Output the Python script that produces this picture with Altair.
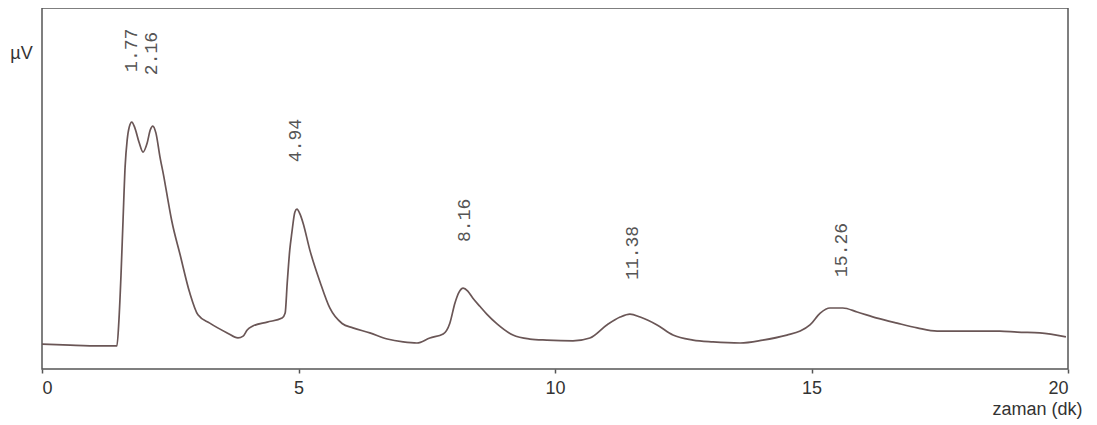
import altair as alt
import pandas as pd

# retention time (dk) and detector signal (arbitrary µV units)
time_min = [0.00, 0.55, 1.13, 1.44, 1.46, 1.50, 1.54, 1.58, 1.62, 1.66, 1.70, 1.75,
            1.81, 1.89, 1.97, 2.05, 2.11, 2.16, 2.22, 2.30, 2.38, 2.44, 2.53, 2.69,
            2.88, 3.04, 3.27, 3.61, 3.82, 3.92, 4.00, 4.11, 4.39, 4.68, 4.74, 4.78,
            4.83, 4.87, 4.93, 4.97, 5.03, 5.09, 5.22, 5.42, 5.61, 5.85, 6.06, 6.39,
            6.73, 7.04, 7.31, 7.56, 7.82, 7.95, 8.05, 8.13, 8.21, 8.30, 8.40, 8.54,
            8.67, 8.87, 9.18, 9.51, 9.84, 10.35, 10.68, 11.01, 11.27, 11.46, 11.66,
            11.99, 12.30, 12.69, 13.08, 13.61, 14.05, 14.52, 14.78, 14.97, 15.17,
            15.36, 15.61, 15.89, 16.28, 16.67, 17.06, 17.45, 18.03, 18.67, 19.01,
            19.45, 19.96]
signal_uv = [6.9, 6.6, 6.4, 6.4, 6.4, 13.6, 26.0, 41.3, 56.0, 63.4, 67.0, 68.4,
             66.8, 62.9, 60.1, 62.6, 66.2, 67.3, 65.4, 58.7, 52.9, 48.0, 41.0, 31.8,
             21.1, 15.0, 12.7, 10.0, 8.6, 9.1, 10.8, 11.9, 13.0, 14.1, 15.5, 23.8,
             33.0, 37.7, 43.5, 44.3, 42.9, 40.4, 33.0, 24.1, 16.9, 12.6, 11.4, 10.0,
             8.3, 7.5, 7.2, 8.6, 9.7, 12.7, 18.3, 21.3, 22.4, 21.6, 19.6, 17.3,
             15.2, 12.5, 9.4, 8.3, 8.0, 7.8, 8.6, 12.2, 14.4, 15.2, 14.4,
             12.2, 9.4, 8.0, 7.5, 7.2, 8.0, 9.4, 10.5, 12.2, 15.5,
             16.9, 16.9, 15.8, 14.1, 12.7, 11.4, 10.5, 10.5, 10.5, 10.2,
             10.0, 8.9]

# peak annotations: text, position along time axis, and signal level of label foot
peak_labels = ["1.77", "2.16", "4.94", "8.16", "11.38", "15.26"]
peak_label_time = [1.75, 2.14, 4.95, 8.25, 11.52, 15.59]
peak_label_level = [82.3, 81.4, 57.3, 35.2, 24.7, 25.5]

x_ticks = [0, 5, 10, 15, 20]

curve = pd.DataFrame({"t": time_min, "v": signal_uv})
labels = pd.DataFrame({"label": peak_labels, "t": peak_label_time, "v": peak_label_level})

x_scale = alt.Scale(domain=[0, 20], nice=False, zero=False)
y_scale = alt.Scale(domain=[0, 100], nice=False)

line = alt.Chart(curve).mark_line(
    color="#6a5656", strokeWidth=1.7, interpolate="monotone"
).encode(
    x=alt.X("t:Q", scale=x_scale, axis=alt.Axis(
        title="zaman (dk)", values=x_ticks, format="d", grid=False, domain=False,
        tickSize=4, tickColor="#555", tickWidth=1.5, labelPadding=6,
        labelFont="Liberation Sans", labelFontSize=18, labelColor="#333",
        titleFont="Liberation Sans", titleFontSize=18, titleFontWeight="normal",
        titleColor="#333", titleX=1040, titleY=40, titleAlign="right",
        titleBaseline="middle")),
    y=alt.Y("v:Q", scale=y_scale, axis=alt.Axis(
        title="µV", labels=False, ticks=False, domain=False, grid=False,
        titleAngle=0, titleX=-21, titleY=45, titleAlign="center",
        titleBaseline="middle", titleFont="Liberation Sans", titleFontSize=18,
        titleFontWeight="normal", titleColor="#333")),
)

text = alt.Chart(labels).mark_text(
    angle=270, align="left", baseline="middle", font="Liberation Mono",
    fontSize=18, color="#555"
).encode(
    x=alt.X("t:Q", scale=x_scale),
    y=alt.Y("v:Q", scale=y_scale),
    text="label:N",
)

chart = (line + text).properties(
    width=1026, height=361,
    autosize=alt.AutoSizeParams(type="none"),
    padding={"left": 34, "top": 0, "right": 21, "bottom": 52},
    background="white",
).configure_view(stroke="#555", strokeWidth=1.5)

chart.save("out.html", embed_options={"renderer": "svg", "actions": False})
